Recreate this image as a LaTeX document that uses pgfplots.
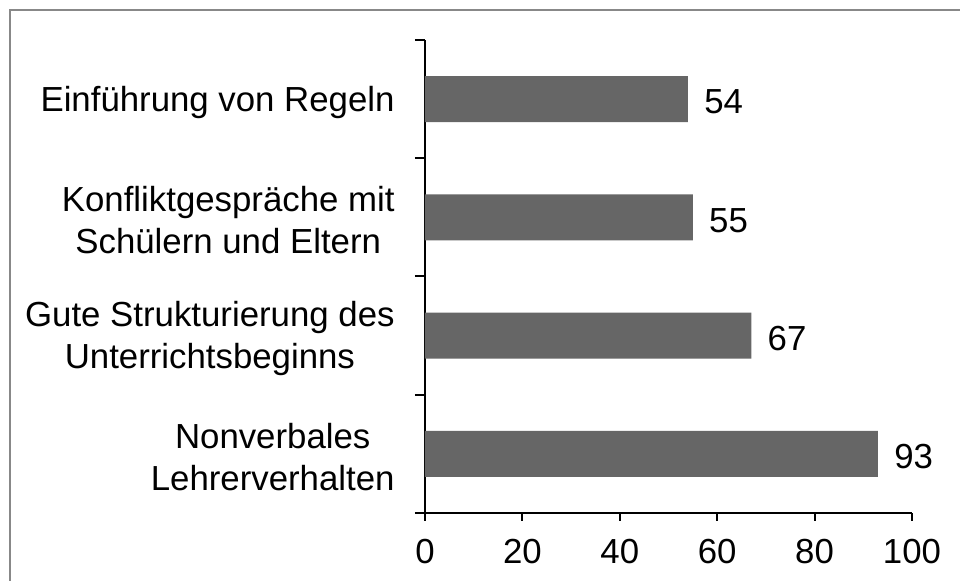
\documentclass[border=0pt]{standalone}
\usepackage{pgfplots}
\pgfplotsset{compat=1.18}
\usepackage{fontspec}
\setmainfont{Liberation Sans}
\definecolor{barc}{HTML}{666666}
\definecolor{framec}{HTML}{888888}
\begin{document}
\begin{tikzpicture}
\begin{axis}[
  at={(0,0)}, anchor=south west,
  scale only axis,
  width=243.5pt, height=236.5pt,
  xbar, bar width=23pt,
  xmin=0, xmax=100, ymin=-0.5, ymax=3.5,
  xtick={0,20,40,60,80,100},
  ytick={0,1,2,3},
  yticklabels={{Nonverbales\\Lehrerverhalten},{Gute Strukturierung des\\Unterrichtsbeginns},{Konfliktgespräche mit\\Schülern und Eltern},{Einführung von Regeln}},
  minor ytick={-0.5,0.5,1.5,2.5,3.5},
  axis x line*=bottom, axis y line*=left,
  axis line style={line width=1pt},
  tick align=outside,
  major tick length=4pt, minor tick length=5pt,
  every tick/.style={black, line width=1pt},
  major y tick style={draw=none},
  /pgf/number format/assume math mode=true,
  tick label style={font=\fontsize{17.4}{21}\selectfont},
  yticklabel style={align=center, anchor=east, inner sep=0pt, xshift=-11pt, yshift=-1.5pt},
  xticklabel style={inner sep=0pt, yshift=-9pt},
  nodes near coords,
  every node near coord/.append style={anchor=west, inner sep=0pt, xshift=8pt, yshift=-1.5pt, font=\fontsize{17.4}{21}\selectfont, black},
  clip=false,
]
\addplot[fill=barc, draw=none] coordinates {(93,0) (67,1) (55,2) (54,3)};
\end{axis}
\draw[framec, line width=1pt] (-207.5pt,-60pt) -- (-207.5pt,251.5pt) -- (300pt,251.5pt);
\pgfresetboundingbox
\path[use as bounding box] (-212.5pt,-34pt) rectangle (267.5pt,256.5pt);
\end{tikzpicture}
\end{document}
